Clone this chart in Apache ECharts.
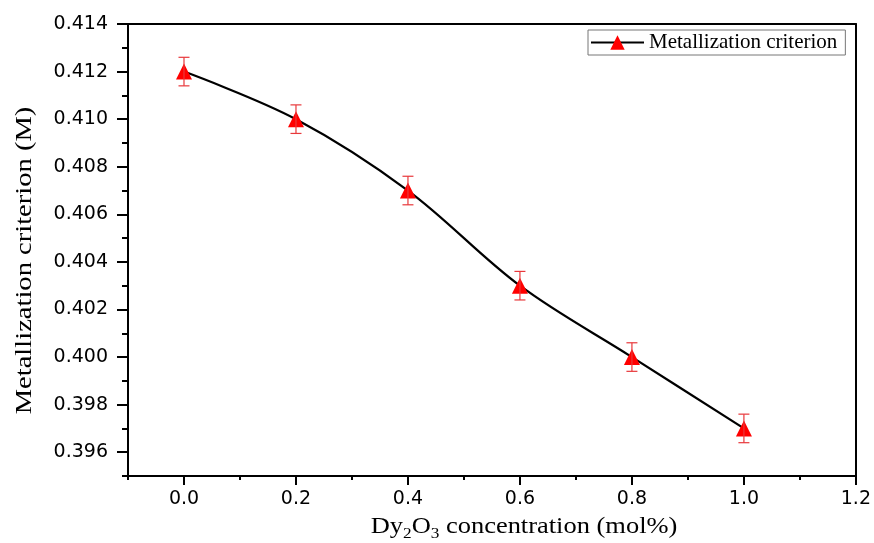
<!DOCTYPE html>
<html><head><meta charset="utf-8">
<script src="https://cdn.jsdelivr.net/npm/echarts@6/dist/echarts.min.js"></script>
<style>html,body{margin:0;padding:0;background:#fff}#c{width:874px;height:543px}</style>
</head><body><div id="c"></div>
<script>
const concentration = [0.0, 0.2, 0.4, 0.6, 0.8, 1.0];
const metallization = [0.412, 0.410, 0.407, 0.403, 0.400, 0.397];
const errors = [0.0006, 0.0006, 0.0006, 0.0006, 0.0006, 0.0006];
const xMajorTicks = [0.0, 0.2, 0.4, 0.6, 0.8, 1.0, 1.2];
const xMinorTicks = [-0.1, 0.1, 0.3, 0.5, 0.7, 0.9, 1.1];
const yMajorTicks = [0.396, 0.398, 0.400, 0.402, 0.404, 0.406, 0.408, 0.410, 0.412, 0.414];
const yMinorTicks = [0.395, 0.397, 0.399, 0.401, 0.403, 0.405, 0.407, 0.409, 0.411, 0.413];
const seriesName = 'Metallization criterion';
const xTitle = '{n|Dy}{s|2}{n|O}{s|3}{n| concentration (mol%)}';
const yTitle = 'Metallization criterion (M)';

const chart = echarts.init(document.getElementById('c'));
const sans = 'DejaVu Sans';
const serif = 'Liberation Serif';
const lineData = concentration.map((x, i) => [x, metallization[i]]);
const errData = concentration.map((x, i) => [x, metallization[i] - errors[i], metallization[i] + errors[i]]);

const baseX = {type: 'value', min: -0.1, max: 1.2, gridIndex: 0, splitLine: {show: false}};
const baseY = {type: 'value', min: 0.395, max: 0.414, gridIndex: 0, splitLine: {show: false}};
const axLine = {show: true, onZero: false, lineStyle: {color: '#000', width: 2}};

chart.setOption({
  animation: false,
  grid: {left: 128, right: 17, top: 24, bottom: 67, containLabel: false},
  legend: {
    left: 588, top: 30,
    data: [seriesName],
    itemWidth: 53, itemHeight: 18, itemGap: 5,
    padding: [2, 8, 2, 2],
    borderColor: '#777', borderWidth: 1,
    textStyle: {fontFamily: serif, fontSize: 21, color: '#000'}
  },
  graphic: [
    {type: 'text', x: 25, y: 260.5, rotation: Math.PI / 2, scaleX: 1.19, silent: true,
      style: {text: yTitle, font: '24px "Liberation Serif"', fill: '#000', align: 'center', verticalAlign: 'middle'}},
    {type: 'text', x: 524, y: 527, scaleX: 1.15, silent: true,
      style: {text: xTitle, align: 'center', verticalAlign: 'middle', fill: '#000',
        rich: {
          n: {fontFamily: serif, fontSize: 23, fill: '#000'},
          s: {fontFamily: serif, fontSize: 15, fill: '#000', verticalAlign: 'bottom', padding: [14, 0, 0, 0]}
        }}}
  ],
  xAxis: [
    Object.assign({}, baseX, {
      position: 'bottom',
      axisLine: axLine,
      axisTick: {show: true, inside: false, length: 9, lineStyle: {color: '#000', width: 2}, customValues: xMajorTicks},
      axisLabel: {show: true, customValues: xMajorTicks, margin: 14, fontFamily: sans, fontSize: 19, color: '#000',
        formatter: v => v.toFixed(1)}
    }),
    Object.assign({}, baseX, {
      position: 'bottom',
      axisLine: {show: false, onZero: false},
      axisTick: {show: true, inside: false, length: 4, lineStyle: {color: '#000', width: 2}, customValues: xMinorTicks},
      axisLabel: {show: false}
    }),
    Object.assign({}, baseX, {
      position: 'top',
      axisLine: axLine, axisTick: {show: false}, axisLabel: {show: false}
    })
  ],
  yAxis: [
    Object.assign({}, baseY, {
      position: 'left',
      axisLine: axLine,
      axisTick: {show: true, inside: false, length: 11, lineStyle: {color: '#000', width: 2}, customValues: yMajorTicks},
      axisLabel: {show: true, customValues: yMajorTicks, margin: 20, fontFamily: sans, fontSize: 19, color: '#000',
        formatter: v => v.toFixed(3)}
    }),
    Object.assign({}, baseY, {
      position: 'left',
      axisLine: {show: false, onZero: false},
      axisTick: {show: true, inside: false, length: 6, lineStyle: {color: '#000', width: 2}, customValues: yMinorTicks},
      axisLabel: {show: false}
    }),
    Object.assign({}, baseY, {
      position: 'right',
      axisLine: axLine, axisTick: {show: false}, axisLabel: {show: false}
    })
  ],
  series: [
    {
      name: seriesName, type: 'line', data: lineData, smooth: 0.35,
      xAxisIndex: 0, yAxisIndex: 0,
      lineStyle: {color: '#000', width: 2.2},
      itemStyle: {color: '#ff0000'},
      symbol: 'triangle', symbolSize: 16, showSymbol: true, z: 3
    },
    {
      name: 'err', type: 'custom', data: errData, xAxisIndex: 0, yAxisIndex: 0, z: 4,
      renderItem: function (params, api) {
        const x = api.value(0);
        const top = api.coord([x, api.value(2)]);
        const bot = api.coord([x, api.value(1)]);
        const hw = 5.5;
        const st = {stroke: '#e8383b', lineWidth: 1.2};
        return {type: 'group', children: [
          {type: 'line', shape: {x1: top[0], y1: top[1], x2: bot[0], y2: bot[1]}, style: st},
          {type: 'line', shape: {x1: top[0] - hw, y1: top[1], x2: top[0] + hw, y2: top[1]}, style: st},
          {type: 'line', shape: {x1: bot[0] - hw, y1: bot[1], x2: bot[0] + hw, y2: bot[1]}, style: st}
        ]};
      }
    }
  ]
});
</script></body></html>
